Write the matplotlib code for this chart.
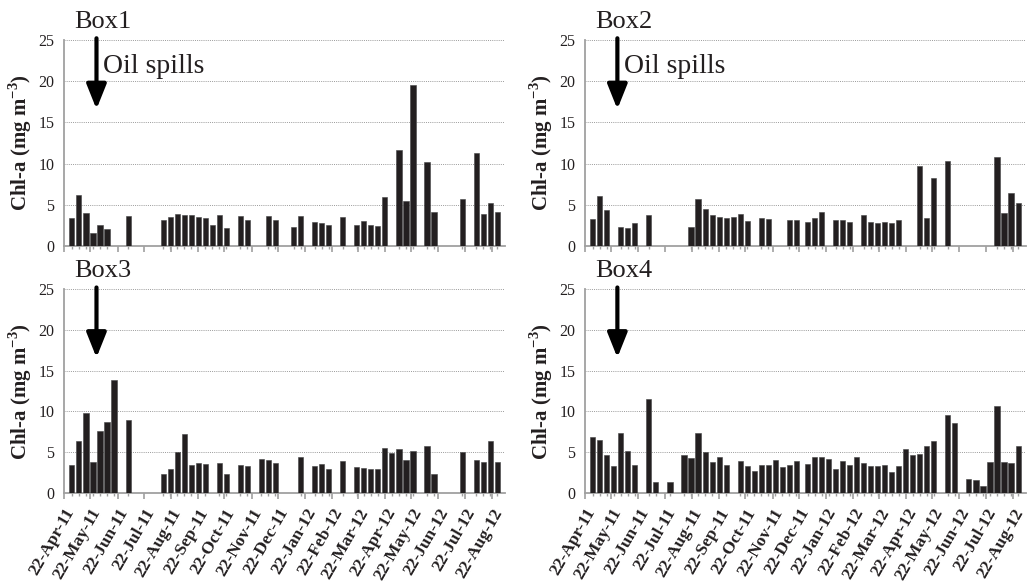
import numpy as np
import pandas as pd
import matplotlib
matplotlib.use("Agg")
import matplotlib.pyplot as plt
import matplotlib.dates as mdates

plt.rcParams['font.family'] = ['Liberation Serif', 'DejaVu Serif']
plt.rcParams['mathtext.fontset'] = 'custom'
plt.rcParams['mathtext.rm'] = 'Liberation Serif'
plt.rcParams['mathtext.bf'] = 'Liberation Serif:bold'

# 8-day composite dates (restart on 1 Jan)
dates = list(pd.date_range('2011-05-01', '2011-12-27', freq='8D')) + \
        list(pd.date_range('2012-01-01', '2012-08-28', freq='8D'))

N = None
box1 = [3.4, 6.2, 4.0, 1.6, 2.6, 2.0, N, N, 3.6, N, N, N, N, 3.2, 3.5, 3.9, 3.7, 3.7, 3.5, 3.4,
        2.6, 3.7, 2.2, N, 3.6, 3.2, N, N, 3.6, 3.2, N,
        N, 2.3, 3.6, N, 2.9, 2.8, 2.6, N, 3.5, N, 2.6, 3.0, 2.5, 2.4, 5.9, N, 11.7, 5.4, 19.5, N,
        10.2, 4.1, N, N, N, 5.7, N, 11.3, 3.9, 5.2, 4.1]
box2 = [3.25, 6.05, 4.35, N, 2.3, 2.15, 2.75, N, 3.75, N, N, N, N, N, 2.3, 5.65, 4.45, 3.75, 3.5, 3.4,
        3.55, 3.85, 3.05, N, 3.35, 3.3, N, N, 3.15, 3.1, N,
        2.9, 3.45, 4.1, N, 3.1, 3.2, 2.9, N, 3.7, 2.95, 2.75, 2.95, 2.75, 3.1, N, N, 9.65, 3.45, 8.2, N,
        10.3, N, N, N, N, N, N, 10.85, 3.95, 6.45, 5.2]
box3 = [3.5, 6.4, 9.8, 3.8, 7.6, 8.7, 13.9, N, 8.9, N, N, N, N, 2.3, 2.9, 5.0, 7.2, 3.5, 3.7, 3.6,
        N, 3.7, 2.3, N, 3.4, 3.3, N, 4.2, 4.1, 3.7, N,
        N, N, 4.4, N, 3.3, 3.6, 3.0, N, 3.9, N, 3.2, 3.1, 2.9, 2.9, 5.5, 4.9, 5.4, 4.1, 5.2, N,
        5.8, 2.3, N, N, N, 5.0, N, 4.0, 3.8, 6.4, 3.8]
box4 = [6.84, 6.52, 4.71, 3.36, 7.42, 5.2, 3.48, N, 11.5, 1.31, N, 1.39, N, 4.71, 4.26, 7.34, 5.08, 3.85, 4.39, 3.48,
        N, 3.93, 3.28, 2.66, 3.48, 3.48, 4.10, 3.16, 3.40, 3.98, N,
        3.52, 4.47, 4.39, 4.14, 2.99, 3.93, 3.44, 4.47, 3.65, 3.32, 3.28, 3.48, 2.62, 3.36, 5.41, 4.67, 4.75, 5.74, 6.35, N,
        9.59, 8.61, N, 1.76, 1.64, 0.82, 3.85, 10.7, 3.81, 3.69, 5.78]

boxes = [box1, box2, box3, box4]
names = ['Box1', 'Box2', 'Box3', 'Box4']
spill_date = pd.Timestamp('2011-05-29')

fig = plt.figure(figsize=(10.28, 5.87), dpi=100)
positions = [[0.0623, 0.581, 0.429, 0.351], [0.569, 0.581, 0.429, 0.351],
             [0.0623, 0.160, 0.429, 0.3475], [0.569, 0.160, 0.429, 0.3475]]
dark = '#231f20'
grey = '#a0a0a0'

for i, (vals, name) in enumerate(zip(boxes, names)):
    ax = fig.add_axes(positions[i])
    d = [dt for dt, v in zip(dates, vals) if v is not None]
    v = [v for v in vals if v is not None]
    ax.bar(d, v, width=5.8, color=dark, edgecolor='#444444', linewidth=0.4, zorder=3)

    ax.set_ylim(0, 25)
    ax.set_yticks([0, 5, 10, 15, 20, 25])
    ax.set_xlim(pd.Timestamp('2011-04-22'), pd.Timestamp('2012-09-06'))
    ax.yaxis.grid(True, linestyle=(0, (1, 1.2)), color='#9a9a9a', linewidth=0.7, zorder=0)
    for s in ['top', 'right']:
        ax.spines[s].set_visible(False)
    ax.spines['left'].set_color(grey)
    ax.spines['left'].set_linewidth(1.3)
    ax.spines['bottom'].set_color(grey)
    ax.spines['bottom'].set_linewidth(1.3)
    ax.tick_params(axis='y', length=0, labelsize=11.5, labelcolor=dark, pad=7)
    ax.xaxis.set_major_locator(mdates.MonthLocator(bymonthday=22))
    ax.xaxis.set_major_formatter(mdates.DateFormatter('%d-%b-%y'))
    ax.set_xticks(d, minor=True)
    ax.tick_params(axis='x', which='major', length=4, color=grey, width=1.2, direction='out', pad=5)
    ax.tick_params(axis='x', which='minor', length=2, color=grey, width=1.0, direction='out')
    if i < 2:
        ax.tick_params(axis='x', labelbottom=False)
    else:
        for lab in ax.get_xticklabels():
            lab.set_rotation(60)
            lab.set_ha('right')
            lab.set_rotation_mode('anchor')
            lab.set_fontweight('bold')
            lab.set_fontsize(12.5)
            lab.set_color(dark)
    ax.set_ylabel('Chl-a (mg m$^{\\mathbf{-3}}$)', fontsize=15, fontweight='bold', color=dark, labelpad=3)

    ax.text(0.023, 1.035, name, transform=ax.transAxes, fontsize=19, color=dark, va='bottom')
    ax.annotate('', xy=(spill_date, 16.6), xytext=(spill_date, 25.2),
                arrowprops=dict(arrowstyle='-|>,head_width=0.6,head_length=1.5',
                                color='black', lw=3, shrinkA=0, shrinkB=0), zorder=5)
    if i < 2:
        ax.text(pd.Timestamp('2011-06-06'), 20.3, 'Oil spills', fontsize=20, color=dark, va='bottom')

fig.savefig('out.png', dpi=100)
